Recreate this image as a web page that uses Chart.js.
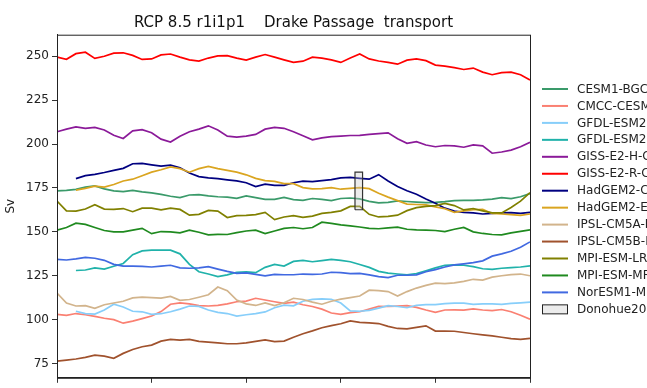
<!DOCTYPE html>
<html>
<head>
<meta charset="utf-8">
<script src="https://cdn.jsdelivr.net/npm/chart.js@4.4.0/dist/chart.umd.min.js"></script>
<style>
    html, body { margin: 0; padding: 0; background: #fff; overflow: hidden; }
    canvas { display: block; }
</style>
</head>
<body>
<canvas id="drakeChart" width="647" height="388"></canvas>
<script>
// Années (axe x)
const years = [2000, 2002, 2004, 2006, 2008, 2010, 2012, 2014, 2016, 2018,
    2020, 2022, 2024, 2026, 2028, 2030, 2032, 2034, 2036, 2038,
    2040, 2042, 2044, 2046, 2048, 2050, 2052, 2054, 2056, 2058,
    2060, 2062, 2064, 2066, 2068, 2070, 2072, 2074, 2076, 2078,
    2080, 2082, 2084, 2086, 2088, 2090, 2092, 2094, 2096, 2098, 2100];

const yTicks = [75, 100, 125, 150, 175, 200, 225, 250];
const xTicks = [2000, 2020, 2040, 2060, 2080, 2100];

// Transport (Sv) par modèle
const cesm1Bgc = [173.3, 173.6, 174.2, 175.5, 176.2, 174.5, 173.4, 172.9, 173.6, 172.8,
    172.2, 171.4, 170.3, 169.5, 171.0, 171.2, 170.5, 170.0, 169.8, 169.1,
    170.5, 169.5, 168.5, 168.5, 169.6, 168.4, 168.0, 169.0, 168.5, 167.8,
    169.0, 169.3, 168.8, 167.4, 166.5, 166.8, 167.7, 167.3, 167.0, 166.7,
    166.8, 167.2, 167.8, 168.0, 168.0, 168.2, 168.7, 169.5, 169.0, 170.0, 171.8];
const cmccCesm = [103.0, 102.5, 103.5, 102.8, 101.9, 100.8, 100.0, 98.0, 99.2, 100.6,
    102.1, 104.6, 108.8, 109.6, 109.0, 108.0, 107.8, 108.2, 109.0, 110.2,
    110.6, 112.2, 111.2, 110.2, 109.3, 110.0, 108.5, 107.5, 106.0, 103.8,
    103.0, 104.0, 104.5, 106.0, 107.6, 107.5, 107.7, 108.0, 107.0, 105.5,
    104.2, 105.5, 105.6, 105.4, 106.1, 105.5, 105.2, 105.8, 104.5, 102.5, 100.3];
const gfdlEsm2g = [null, null, 104.8, 103.5, 103.2, 105.5, 108.8, 107.2, 104.8, 104.5,
    103.0, 103.4, 104.5, 106.0, 107.8, 107.6, 105.5, 104.2, 103.5, 102.0,
    102.8, 103.4, 104.4, 106.8, 108.3, 107.9, 110.5, 111.6, 111.8, 111.6,
    109.5, 105.0, 104.8, 105.3, 106.6, 108.0, 107.5, 106.8, 108.2, 108.6,
    108.6, 109.1, 109.4, 109.4, 108.7, 109.0, 109.0, 108.7, 109.3, 109.6, 110.0];
const gfdlEsm2m = [null, null, 128.0, 128.3, 129.5, 128.8, 130.4, 132.0, 137.0, 139.2,
    139.6, 139.6, 139.6, 137.5, 131.5, 127.3, 126.0, 124.5, 125.5, 127.0,
    127.2, 126.8, 129.8, 131.5, 130.5, 133.2, 133.8, 133.0, 133.6, 134.3,
    133.8, 133.0, 131.4, 129.8, 127.5, 126.5, 126.0, 125.6, 126.2, 127.8,
    129.5, 131.0, 131.2, 131.0, 130.2, 129.0, 128.7, 129.3, 129.6, 130.0, 130.6];
const gissE2HCc = [207.0, 208.5, 209.8, 209.0, 209.5, 208.0, 205.0, 203.2, 207.5, 208.2,
    206.5, 202.8, 201.2, 204.5, 207.0, 208.5, 210.4, 208.0, 204.5, 204.0,
    204.5, 205.5, 208.5, 209.5, 209.0, 207.0, 204.7, 202.4, 203.5, 204.2,
    204.5, 204.9, 205.0, 205.5, 206.0, 206.4, 203.0, 200.4, 201.4, 199.5,
    198.5, 199.2, 199.0, 198.2, 199.5, 199.0, 194.8, 195.5, 196.6, 198.5, 201.0];
const gissE2RCc = [249.5, 248.3, 251.5, 252.3, 248.8, 250.0, 251.8, 252.0, 250.5, 248.2,
    248.5, 250.8, 251.3, 249.5, 248.0, 247.3, 249.0, 250.2, 250.4, 249.0,
    247.8, 249.5, 251.0, 249.5, 248.0, 246.6, 247.2, 249.5, 249.0, 248.0,
    246.5, 249.0, 251.3, 248.5, 247.3, 246.5, 245.5, 247.8, 248.5, 247.5,
    245.0, 244.4, 243.5, 242.5, 243.3, 241.0, 239.5, 240.7, 241.0, 239.5, 236.5];
const hadgem2Cc = [null, null, 180.3, 182.0, 182.8, 183.8, 185.0, 186.2, 188.8, 189.0,
    188.2, 187.5, 188.0, 186.5, 183.5, 181.5, 180.8, 180.3, 179.6, 179.0,
    178.0, 175.8, 177.2, 176.5, 176.5, 178.0, 178.9, 178.6, 179.2, 179.8,
    180.8, 181.0, 180.5, 180.0, 182.6, 179.0, 175.8, 173.4, 171.4, 168.7,
    166.3, 163.5, 161.8, 161.1, 160.8, 160.2, 160.5, 160.8, 161.0, 160.6, 161.1];
const hadgem2Es = [null, null, 173.8, 174.8, 176.0, 175.5, 177.0, 179.0, 180.0, 182.0,
    184.0, 185.4, 187.0, 186.0, 184.0, 186.0, 187.3, 186.0, 185.0, 184.0,
    182.5, 180.5, 179.2, 178.8, 177.5, 177.5, 175.2, 174.5, 174.6, 175.2,
    174.3, 174.8, 175.2, 174.6, 172.0, 169.8, 167.8, 165.8, 165.6, 165.4,
    164.2, 163.2, 161.1, 162.0, 162.6, 162.8, 160.5, 160.2, 159.8, 159.4, 160.2];
const ipslCm5aLr = [115.2, 109.5, 107.8, 108.0, 106.5, 108.5, 109.5, 110.5, 112.4, 112.8,
    112.6, 112.3, 113.2, 111.0, 111.5, 112.8, 114.2, 118.6, 116.5, 111.2,
    109.0, 108.1, 109.6, 108.0, 109.6, 112.2, 111.5, 110.0, 108.8, 110.5,
    111.7, 112.6, 113.5, 116.8, 116.5, 116.0, 113.5, 116.0, 118.0, 119.5,
    120.8, 120.5, 121.0, 121.8, 123.0, 122.5, 124.2, 125.0, 125.7, 126.0, 125.0];
const ipslCm5bLr = [76.4, 77.0, 77.6, 78.5, 79.8, 79.2, 78.0, 80.8, 83.0, 84.6,
    85.5, 87.8, 88.8, 88.4, 88.8, 87.6, 87.2, 86.8, 86.3, 86.3,
    86.8, 87.6, 88.5, 87.5, 87.8, 90.0, 92.0, 93.6, 95.4, 96.6,
    97.7, 99.3, 98.5, 98.2, 97.8, 96.2, 95.0, 94.8, 95.6, 96.5,
    93.5, 93.5, 93.4, 92.7, 92.0, 91.4, 90.8, 90.0, 89.2, 88.8, 89.4];
const mpiEsmLr = [167.5, 162.0, 161.8, 163.0, 165.5, 163.0, 162.8, 163.3, 161.5, 163.5,
    163.5, 162.5, 163.5, 162.8, 159.5, 160.0, 162.2, 161.8, 158.2, 159.3,
    159.4, 159.8, 161.1, 157.0, 158.5, 159.2, 158.3, 159.0, 160.5, 161.1,
    162.0, 164.5, 164.5, 160.0, 158.5, 158.8, 159.5, 162.1, 163.8, 164.5,
    165.0, 166.2, 165.0, 162.5, 163.3, 162.0, 160.8, 160.8, 163.9, 167.5, 172.3];
const mpiEsmMr = [151.0, 152.5, 155.0, 154.3, 152.5, 150.8, 150.0, 150.0, 151.0, 152.0,
    149.0, 150.2, 150.0, 149.4, 151.0, 149.8, 148.3, 148.6, 148.5, 149.6,
    150.5, 151.0, 149.0, 150.5, 152.0, 152.5, 151.8, 152.5, 155.5, 154.8,
    154.0, 153.4, 152.8, 152.0, 151.8, 152.3, 152.7, 151.5, 151.1, 151.0,
    150.8, 150.2, 151.5, 152.5, 150.0, 149.1, 148.5, 148.3, 149.4, 150.3, 151.2];
const noresm1Me = [134.3, 134.0, 134.6, 135.5, 135.0, 133.8, 131.5, 130.5, 130.5, 130.4,
    130.0, 130.5, 131.0, 129.5, 129.3, 129.5, 130.2, 128.8, 127.5, 126.4,
    126.7, 125.8, 125.0, 125.8, 125.6, 125.6, 126.0, 125.8, 126.0, 127.0,
    126.8, 126.2, 126.4, 125.5, 124.5, 124.0, 125.3, 125.3, 125.5, 127.3,
    128.5, 130.0, 131.2, 131.8, 132.5, 133.5, 136.2, 137.5, 139.0, 141.3, 144.3];

// Donohue et al. 2016 : 173.3 ± 10.7 Sv
const donohueYears = [2063.0, 2064.6];
const donohueRange = [162.6, 184.0];

const models = [
    ['CESM1-BGC', cesm1Bgc, '#3a9a6a'],
    ['CMCC-CESM', cmccCesm, '#fa8072'],
    ['GFDL-ESM2G', gfdlEsm2g, '#87cefa'],
    ['GFDL-ESM2M', gfdlEsm2m, '#20b2aa'],
    ['GISS-E2-H-CC', gissE2HCc, '#8b1a99'],
    ['GISS-E2-R-CC', gissE2RCc, '#ff0000'],
    ['HadGEM2-CC', hadgem2Cc, '#000080'],
    ['HadGEM2-ES', hadgem2Es, '#daa520'],
    ['IPSL-CM5A-LR', ipslCm5aLr, '#d2b48c'],
    ['IPSL-CM5B-LR', ipslCm5bLr, '#a0522d'],
    ['MPI-ESM-LR', mpiEsmLr, '#808000'],
    ['MPI-ESM-MR', mpiEsmMr, '#1f8a1f'],
    ['NorESM1-ME', noresm1Me, '#4169e1']
];

const FONT = 'DejaVu Sans';

const datasets = models.map(([name, values, color], i) => ({
    label: name,
    data: years.map((yr, k) => ({ x: yr, y: values[k] })),
    borderColor: color,
    backgroundColor: color,
    borderWidth: 1.7,
    pointRadius: 0,
    tension: 0,
    fill: false,
    spanGaps: false,
    order: -i
}));

datasets.push({
    label: 'Donohue2016',
    data: [
        { x: donohueYears[0], y: donohueRange[0] },
        { x: donohueYears[1], y: donohueRange[0] },
        { x: donohueYears[1], y: donohueRange[1] },
        { x: donohueYears[0], y: donohueRange[1] },
        { x: donohueYears[0], y: donohueRange[0] }
    ],
    borderColor: '#333333',
    backgroundColor: 'rgba(200, 200, 200, 0.35)',
    borderWidth: 1.2,
    pointRadius: 0,
    tension: 0,
    fill: 'shape',
    order: -20,
    isPatch: true
});

// Cadre complet autour de la zone de tracé
const framePlugin = {
    id: 'frame',
    afterDatasetsDraw(chart) {
        const { ctx, chartArea: a } = chart;
        ctx.save();
        ctx.strokeStyle = '#222';
        ctx.lineWidth = 1;
        ctx.strokeRect(a.left + 0.5, a.top + 0.5, a.right - a.left, a.bottom - a.top);
        ctx.restore();
    }
};

// Légende à droite, coupée par le bord comme l'original
const sideLegend = {
    id: 'sideLegend',
    afterDraw(chart) {
        const ctx = chart.ctx;
        ctx.save();
        ctx.font = '12px "' + FONT + '"';
        ctx.textBaseline = 'middle';
        ctx.fillStyle = '#222';
        chart.data.datasets.forEach((ds, i) => {
            const y = 89 + i * 16.95;
            if (ds.isPatch) {
                ctx.fillStyle = '#ececec';
                ctx.fillRect(542.5, y - 4.5, 25, 9);
                ctx.strokeStyle = '#222';
                ctx.lineWidth = 1;
                ctx.strokeRect(542.5, y - 4.5, 25, 9);
                ctx.fillStyle = '#222';
            } else {
                ctx.strokeStyle = ds.borderColor;
                ctx.lineWidth = 2;
                ctx.beginPath();
                ctx.moveTo(542, y);
                ctx.lineTo(568, y);
                ctx.stroke();
            }
            ctx.fillText(ds.label, 577, y + 0.5);
        });
        ctx.restore();
    }
};

new Chart(document.getElementById('drakeChart').getContext('2d'), {
    type: 'line',
    data: { datasets },
    plugins: [framePlugin, sideLegend],
    options: {
        responsive: false,
        animation: false,
        devicePixelRatio: 1,
        layout: { padding: { left: 0, right: 117, top: 0, bottom: 0 } },
        plugins: {
            legend: { display: false },
            tooltip: { enabled: false },
            title: {
                display: true,
                fullSize: false,
                text: 'RCP 8.5 r1i1p1    Drake Passage  transport',
                color: '#111',
                font: { family: FONT, size: 15, weight: 'normal', lineHeight: 1.2 },
                padding: { top: 14, bottom: 2.7 }
            }
        },
        scales: {
            x: {
                type: 'linear',
                min: 2000,
                max: 2100,
                afterFit: (scale) => { scale.height = 5.5; },
                afterBuildTicks: (scale) => { scale.ticks = xTicks.map(v => ({ value: v })); },
                ticks: { display: false },
                grid: { drawOnChartArea: false, drawTicks: true, tickLength: 5, tickColor: '#333' },
                border: { display: true, color: '#222', width: 1 }
            },
            y: {
                min: 66.9,
                max: 262.3,
                afterFit: (scale) => { scale.width = 57; },
                afterBuildTicks: (scale) => { scale.ticks = yTicks.map(v => ({ value: v })); },
                ticks: {
                    color: '#222',
                    padding: 3,
                    font: { family: FONT, size: 12 }
                },
                grid: { drawOnChartArea: false, drawTicks: true, tickLength: 5, tickColor: '#333' },
                border: { display: true, color: '#222', width: 1 },
                title: {
                    display: true,
                    text: 'Sv',
                    color: '#222',
                    font: { family: FONT, size: 12 },
                    padding: { top: 4, bottom: 4 }
                }
            }
        }
    }
});
</script>
</body>
</html>
